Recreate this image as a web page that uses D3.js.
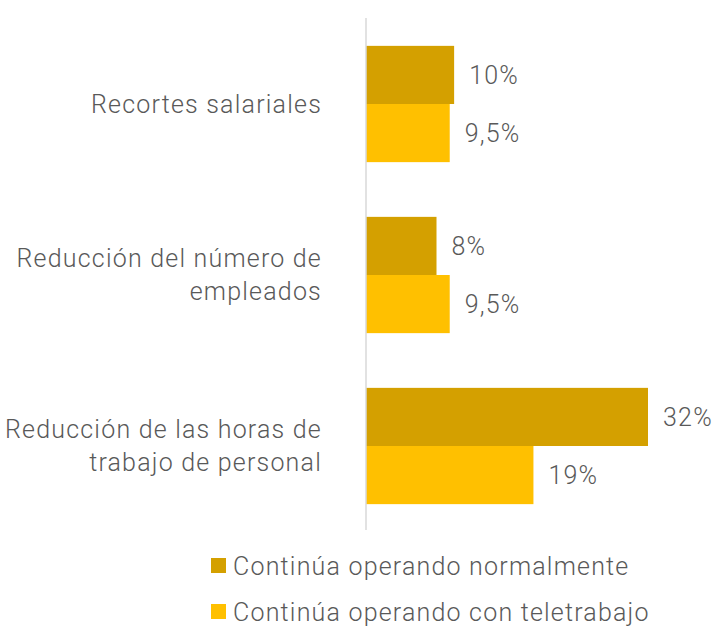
<!DOCTYPE html>
<html>
<head>
<meta charset="utf-8">
<script src="https://cdn.jsdelivr.net/npm/d3@7"></script>
<style>
  body { margin: 0; background: #fff; }
  text { font-family: Roboto, sans-serif; font-weight: 300; fill: #595959; letter-spacing: 1.2px; }
</style>
</head>
<body>
<script>
const width = 717;
const height = 628;

const categories = [
  ["Recortes salariales"],
  ["Reducción del número de", "empleados"],
  ["Reducción de las horas de", "trabajo de personal"]
];
const series = ["Continúa operando normalmente", "Continúa operando con teletrabajo"];
const normal = [10, 8, 32];
const teletrabajo = [9.5, 9.5, 19];
const valueLabels = [["10%", "8%", "32%"], ["9,5%", "9,5%", "19%"]];
const colors = ["#D4A000", "#FFC000"];

const fs = 25;
const x0 = 366;
const x = d3.scaleLinear().domain([0, 32]).range([x0, 648]);
const y = d3.scaleBand().domain(d3.range(categories.length)).range([18.5, 531.5]).paddingInner(0.32).paddingOuter(0.16);
const ySub = d3.scaleBand().domain([0, 1]).range([0, y.bandwidth()]);

const svg = d3.select("body").append("svg")
    .attr("width", width)
    .attr("height", height);

const values = [normal, teletrabajo];

values.forEach((vals, s) => {
  svg.append("g").selectAll("rect")
    .data(vals)
    .join("rect")
    .attr("x", x0)
    .attr("y", (d, i) => y(i) + ySub(s))
    .attr("width", d => x(d) - x0)
    .attr("height", ySub.bandwidth())
    .attr("fill", colors[s]);

  svg.append("g").selectAll("text")
    .data(vals)
    .join("text")
    .attr("x", d => x(d) + 15)
    .attr("y", (d, i) => y(i) + ySub(s) + ySub.bandwidth() / 2)
    .attr("dy", "0.35em")
    .attr("font-size", fs)
    .text((d, i) => valueLabels[s][i]);
});

// axis line
svg.append("line")
    .attr("x1", x0).attr("x2", x0)
    .attr("y1", 18).attr("y2", 530)
    .attr("stroke", "#d9d9d9")
    .attr("stroke-width", 1.5);

// category labels
categories.forEach((lines, i) => {
  const cy = y(i) + y.bandwidth() / 2;
  const lh = 33;
  const t = svg.append("text")
    .attr("text-anchor", "end")
    .attr("font-size", fs);
  lines.forEach((ln, j) => {
    t.append("tspan")
      .attr("x", 322)
      .attr("y", cy + (j - (lines.length - 1) / 2) * lh)
      .attr("dy", "0.35em")
      .text(ln);
  });
});

// legend
series.forEach((s, i) => {
  const ly = 566 + i * 46;
  svg.append("rect")
    .attr("x", 211).attr("y", ly - 8)
    .attr("width", 15).attr("height", 15)
    .attr("fill", colors[i]);
  svg.append("text")
    .attr("x", 233).attr("y", ly)
    .attr("dy", "0.35em")
    .attr("font-size", fs)
    .text(s);
});
</script>
</body>
</html>
